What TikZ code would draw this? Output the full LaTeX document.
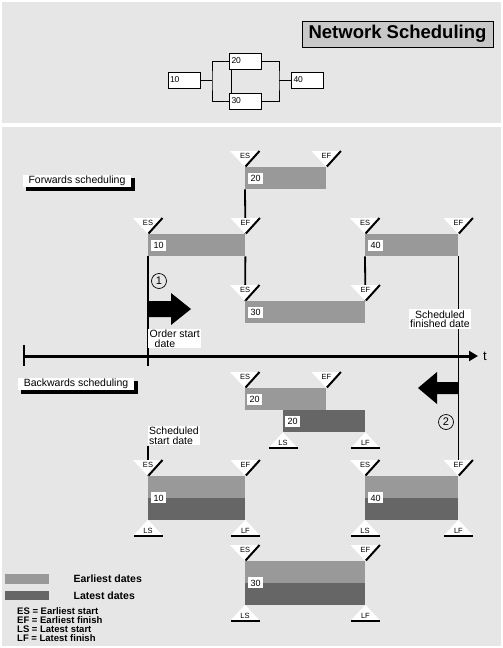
\documentclass[tikz,border=0pt]{standalone}
\usepackage{fontspec}
\setmainfont{Liberation Sans}
\usepackage{tikz}
\usetikzlibrary{positioning}
\usetikzlibrary{arrows.meta}
\usetikzlibrary{shadows}
\usetikzlibrary{backgrounds}

\definecolor{panelgray}{HTML}{E6E6E6}
\definecolor{earlygray}{HTML}{999999}
\definecolor{lategray}{HTML}{666666}
\definecolor{titlegray}{HTML}{C8C8C8}

\tikzset{
  ebar/.style={fill=earlygray, inner sep=0pt, minimum height=22pt, anchor=north west},
  lbar/.style={fill=lategray, inner sep=0pt, minimum height=22pt, anchor=north west},
  numbox/.style={fill=white, inner sep=0.5pt, minimum width=15pt, minimum height=11pt, font=\fontsize{9}{9}\selectfont},
  netbox/.style={draw, fill=white, line width=0.7pt, text width=28pt, align=left, inner sep=2pt, minimum height=16pt, font=\fontsize{8.5}{8.5}\selectfont},
  netline/.style={line width=0.8pt},
  marktext/.style={inner sep=0pt, font=\fontsize{7.5}{7.5}\selectfont},
  markedge/.style={line width=2pt},
  link/.style={line width=1.8pt},
  taglabel/.style={fill=white, inner xsep=6pt, inner ysep=1.5pt, font=\fontsize{10.5}{10.5}\selectfont, general shadow={fill=black, shadow xshift=3.5pt, shadow yshift=-3.5pt}},
  datebox/.style={fill=white, inner xsep=1.5pt, inner ysep=1pt, font=\fontsize{10.5}{9.5}\selectfont},
  circnum/.style={draw, circle, line width=0.7pt, minimum size=15pt, inner sep=0pt, font=\fontsize{11}{11}\selectfont},
}

% marker above a bar corner: apex, text, name
\newcommand{\markabove}[3]{%
  \fill[white] ([shift={(-15,-16)}]#1) -- ([shift={(14,-16)}]#1) -- (#1) -- cycle;
  \draw[markedge] ([shift={(14.5,-16)}]#1) -- ([shift={(0.5,-0.5)}]#1);
  \node[marktext] (#3) at ([shift={(0,-11.5)}]#1) {#2};
}
% marker below a bar corner: apex, text, name
\newcommand{\markbelow}[3]{%
  \fill[white] ([shift={(-14,15)}]#1) -- ([shift={(14,15)}]#1) -- (#1) -- cycle;
  \draw[markedge] ([shift={(-14,16)}]#1) -- ([shift={(15,16)}]#1);
  \node[marktext] (#3) at ([shift={(0,11)}]#1) {#2};
}

\begin{document}
\begin{tikzpicture}[x=1pt, y=-1pt]
\useasboundingbox (0,0) rectangle (503,648);

% top panel
\node[draw, fill=titlegray, line width=0.8pt, minimum width=191pt, minimum height=26pt, font=\fontsize{18.5}{18.5}\selectfont\bfseries] (title) at (397.5,34) {Network Scheduling};

\node[netbox] (n10) at (184,80) {10};
\node[netbox] (n20) at (245.5,61) {20};
\node[netbox] (n30) at (245.5,101) {30};
\node[netbox] (n40) at (307.5,80) {40};
\coordinate (nj1) at (212,80);
\coordinate (nj2) at (279,80);
\draw[netline] (n10.east) -- (nj1);
\draw[netline] (n20.west) -| (nj1) |- (n30.west);
\draw[netline] (n20.east) -| (nj2) |- (n30.east);
\draw[netline] (nj2) -- (n40.west);
\draw[netline] ([xshift=2pt]n20.south west) -- ([xshift=2pt]n30.north west);

% forwards
\node[taglabel] (fwd) at (77,181) {Forwards scheduling};

\node[ebar, minimum width=81pt] (f20) at (245,167) {};
\node[ebar, minimum width=97pt] (f10) at (148,234) {};
\node[ebar, minimum width=93pt] (f40) at (365,234) {};
\node[ebar, minimum width=120pt] (f30) at (245,301) {};

\node[numbox, right=3pt of f20.west] (f20no) {20};
\node[numbox, right=3pt of f10.west] (f10no) {10};
\node[numbox, right=3pt of f40.west] (f40no) {40};
\node[numbox, right=3pt of f30.west] (f30no) {30};

\markabove{f20.north west}{ES}{f20es}
\markabove{f20.north east}{EF}{f20ef}
\markabove{f10.north west}{ES}{f10es}
\markabove{f10.north east}{EF}{f10ef}
\markabove{f40.north west}{ES}{f40es}
\markabove{f40.north east}{EF}{f40ef}
\markabove{f30.north west}{ES}{f30es}
\markabove{f30.north east}{EF}{f30ef}

% time axis
\coordinate (t0) at (24,356);
\coordinate (t1) at (478,356);
\coordinate (tk0) at (24,345);
\coordinate (tk1) at (24,366);
\coordinate (osdend) at (148,366);
\draw[line width=3pt, -{Triangle[length=9pt,width=10pt]}] (t0) -- (t1);
\draw[line width=2.4pt] (tk0) -- (tk1);
\node[inner sep=0pt, font=\fontsize{13}{13}\selectfont] (tlabel) at (485,356) {t};

\fill (149,301) -- (171,301) -- (171,293) -- (191,309) -- (171,325) -- (171,317) -- (149,317) -- cycle;
\fill (458,382) -- (437,382) -- (437,372) -- (418,388) -- (437,404) -- (437,394) -- (458,394) -- cycle;

\node[circnum] (c1) at (159,281) {1};
\node[circnum] (c2) at (446,422) {2};

\node[datebox, anchor=north west, align=left] (osd) at (148,329) {Order start\\\hspace*{5pt}date};
\node[datebox, align=center] (sfd) at (440,319) {Scheduled\\finished date};

% backwards
\node[taglabel] (bwd) at (76,384) {Backwards scheduling};
\node[datebox, anchor=north west, align=left] (ssd) at (147.5,426) {Scheduled\\start date};

\node[ebar, minimum width=81pt] (b20e) at (245,388) {};
\node[lbar, minimum width=82pt] (b20l) at (283,410) {};
\node[ebar, minimum width=97pt, minimum height=21.5pt] (b10e) at (148,476) {};
\node[lbar, minimum width=97pt, minimum height=21.5pt] (b10l) at (b10e.south west) {};
\node[ebar, minimum width=93pt, minimum height=21.5pt] (b40e) at (365,476) {};
\node[lbar, minimum width=93pt, minimum height=21.5pt] (b40l) at (b40e.south west) {};
\node[ebar, minimum width=120pt, minimum height=21.5pt] (b30e) at (245,561) {};
\node[lbar, minimum width=120pt, minimum height=21.5pt] (b30l) at (b30e.south west) {};

\node[numbox, right=2pt of b20e.west] (b20eno) {20};
\node[numbox, right=2pt of b20l.west] (b20lno) {20};
\node[numbox, right=3pt of b10e.south west] (b10no) {10};
\node[numbox, right=3pt of b40e.south west] (b40no) {40};
\node[numbox, right=3pt of b30e.south west] (b30no) {30};

\markabove{b20e.north west}{ES}{b20es}
\markabove{b20e.north east}{EF}{b20ef}
\markbelow{b20l.south west}{LS}{b20ls}
\markbelow{b20l.south east}{LF}{b20lf}
\markabove{b10e.north west}{ES}{b10es}
\markabove{b10e.north east}{EF}{b10ef}
\markbelow{b10l.south west}{LS}{b10ls}
\markbelow{b10l.south east}{LF}{b10lf}
\markabove{b40e.north west}{ES}{b40es}
\markabove{b40e.north east}{EF}{b40ef}
\markbelow{b40l.south west}{LS}{b40ls}
\markbelow{b40l.south east}{LF}{b40lf}
\markabove{b30e.north west}{ES}{b30es}
\markabove{b30e.north east}{EF}{b30ef}
\markbelow{b30l.south west}{LS}{b30ls}
\markbelow{b30l.south east}{LF}{b30lf}

% legend
\node[ebar, minimum width=44pt, minimum height=10pt] (lege) at (5,574) {};
\node[lbar, minimum width=44pt, minimum height=9pt] (legl) at (5,591) {};
\node[right=24pt of lege.east, inner sep=0pt, font=\fontsize{10.5}{10.5}\selectfont\bfseries] (legetxt) {Earliest dates};
\node[right=24pt of legl.east, inner sep=0pt, font=\fontsize{10.5}{10.5}\selectfont\bfseries] (legltxt) {Latest dates};
\node[anchor=north west, align=left, inner sep=0pt, font=\fontsize{9.5}{9.3}\selectfont\bfseries] (abbr) at (17,607) {ES = Earliest start\\EF = Earliest finish\\LS = Latest start\\LF = Latest finish};

\begin{scope}[on background layer]
\fill[panelgray] (2,2) rectangle (501,123);
\fill[panelgray] (2,127) rectangle (501,646);
\draw[link] (f20.south west) -- (f10.north east);
\draw[link] (f10.south east) -- (f30.north west);
\draw[link] (f40.south west) -- (f30.north east);
\draw[link] (f10.south west) -- (osdend);
\draw[link] (f40.south east) -- (b40e.north east);
\draw[link] (ssd.south west -| b10e.north west) -- (b10e.north west);
\end{scope}

\end{tikzpicture}
\end{document}
